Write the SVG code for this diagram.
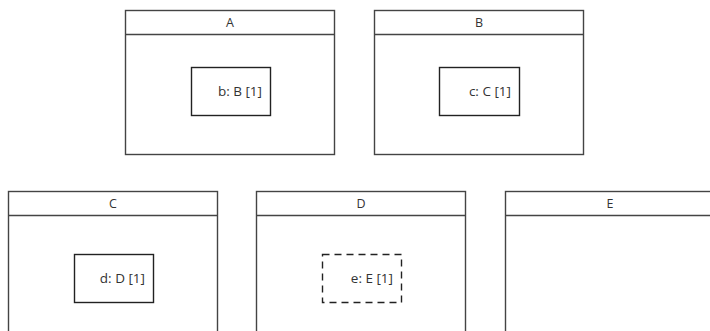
<svg xmlns="http://www.w3.org/2000/svg" width="710" height="331" viewBox="0 0 710 331">
<style>
.frame{fill:#fff;stroke:#444;stroke-width:1.4}
.inner{fill:#fff;stroke:#222;stroke-width:1.4}
.dash{fill:#fff;stroke:#222;stroke-width:1.4;stroke-dasharray:7,5}
text{font-family:"Open Sans","Liberation Sans",sans-serif;font-size:13.5px;fill:#333}
.h{text-anchor:middle;font-size:12.5px}
.l{text-anchor:end}
</style>
<rect width="710" height="331" fill="#fff"/>
<g id="A">
<rect class="frame" x="125.5" y="10.5" width="209" height="144"/>
<line class="frame" x1="125.5" y1="34.5" x2="334.5" y2="34.5"/>
<text class="h" x="230" y="27">A</text>
<g id="A_b">
<rect class="inner" x="191.5" y="67.5" width="79" height="48"/>
<text class="l" x="262" y="96">b: B [1]</text>
</g>
</g>
<g id="B">
<rect class="frame" x="374.5" y="10.5" width="209" height="144"/>
<line class="frame" x1="374.5" y1="34.5" x2="583.5" y2="34.5"/>
<text class="h" x="479" y="27">B</text>
<g id="B_c">
<rect class="inner" x="439.5" y="67.5" width="80" height="48"/>
<text class="l" x="511" y="96">c: C [1]</text>
</g>
</g>
<g id="C">
<rect class="frame" x="8.5" y="191.5" width="209" height="150"/>
<line class="frame" x1="8.5" y1="215.5" x2="217.5" y2="215.5"/>
<text class="h" x="113" y="208">C</text>
<g id="C_d">
<rect class="inner" x="74.5" y="254.5" width="79" height="48"/>
<text class="l" x="145" y="283">d: D [1]</text>
</g>
</g>
<g id="D">
<rect class="frame" x="256.5" y="191.5" width="209" height="150"/>
<line class="frame" x1="256.5" y1="215.5" x2="465.5" y2="215.5"/>
<text class="h" x="361" y="208">D</text>
<g id="D_e">
<rect class="dash" x="322.5" y="254.5" width="79" height="48"/>
<text class="l" x="393" y="283">e: E [1]</text>
</g>
</g>
<g id="E">
<rect class="frame" x="505.5" y="191.5" width="209" height="150"/>
<line class="frame" x1="505.5" y1="215.5" x2="714.5" y2="215.5"/>
<text class="h" x="610" y="208">E</text>
</g>
<g id="connectors"/>
</svg>
